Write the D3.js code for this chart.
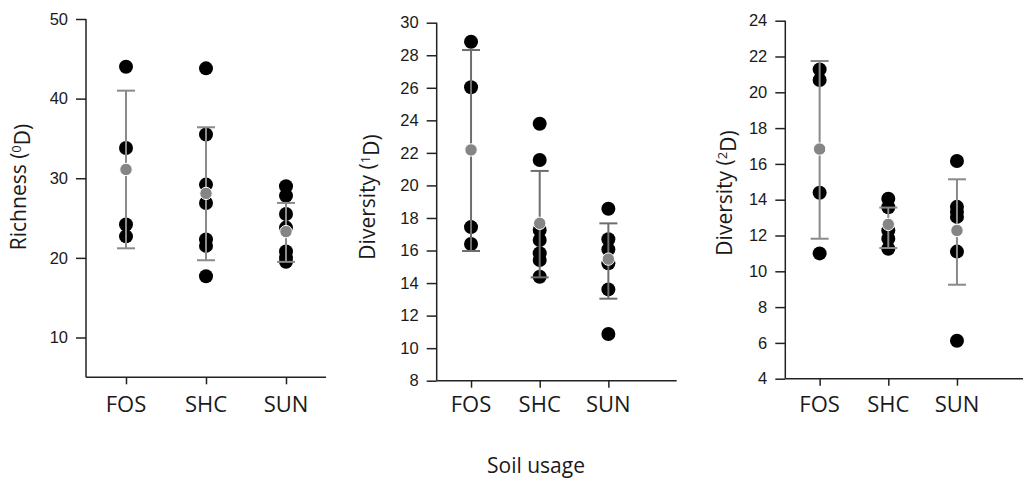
<!DOCTYPE html>
<html>
<head>
<meta charset="utf-8">
<script src="https://cdn.jsdelivr.net/npm/d3@7"></script>
<style>
  body { margin: 0; background: #fff; }
  .tick text { font-family: "Liberation Sans", Arial, sans-serif; font-size: 16.5px; fill: #1a1a1a; }
  .lab { font-family: "Open Sans", sans-serif; fill: #1a1a1a; }
</style>
</head>
<body>
<svg id="chart" width="1023" height="481"></svg>
<script>
// soil usage categories
var categories = ["FOS", "SHC", "SUN"];

// observed values per category (black dots)
var richness = [
  [44.0, 33.8, 24.2, 22.7],
  [43.8, 35.5, 29.2, 26.9, 22.3, 21.5, 17.7],
  [29.0, 27.8, 25.5, 23.8, 20.8, 20.0, 19.5]
];
var diversity1 = [
  [28.83, 26.03, 17.44, 16.4],
  [23.79, 21.56, 17.26, 16.65, 15.83, 15.42, 14.39],
  [18.57, 16.69, 16.07, 15.21, 13.61, 10.87]
];
var diversity2 = [
  [21.28, 20.69, 14.39, 11.0],
  [14.05, 13.58, 12.28, 11.82, 11.26],
  [16.16, 13.6, 13.32, 13.04, 11.1, 6.12]
];

// means and error bar ends (grey)
var richnessMean = [31.1, 28.1, 23.3];
var richnessLow = [21.2, 19.7, 19.5];
var richnessHigh = [41.0, 36.4, 26.9];

var diversity1Mean = [22.18, 17.67, 15.47];
var diversity1Low = [15.97, 14.35, 13.04];
var diversity1High = [28.32, 20.89, 17.67];

var diversity2Mean = [16.83, 12.62, 12.28];
var diversity2Low = [11.82, 11.3, 9.25];
var diversity2High = [21.75, 13.56, 15.14];

// tick labels
var richnessTicks = [10, 20, 30, 40, 50];
var diversity1Ticks = [8, 10, 12, 14, 16, 18, 20, 22, 24, 26, 28, 30];
var diversity2Ticks = [4, 6, 8, 10, 12, 14, 16, 18, 20, 22, 24];

var svg = d3.select("#chart");

var panels = [
  { left: 86, top: 19, bottom: 377.3, spread: 240, domain: [5, 50], ticks: richnessTicks,
    pts: richness, mean: richnessMean, lo: richnessLow, hi: richnessHigh,
    title: ["Richness (", "0", "D)"], tx: 19, ty: 187, err: "#8a8a8a" },
  { left: 436.7, top: 22.7, bottom: 380.7, spread: 206, domain: [8, 30], ticks: diversity1Ticks,
    pts: diversity1, mean: diversity1Mean, lo: diversity1Low, hi: diversity1High,
    title: ["Diversity (", "1", "D)"], tx: 368, ty: 197, err: "#6e6e6e" },
  { left: 785.3, top: 20.7, bottom: 378.7, spread: 206, domain: [4, 24], ticks: diversity2Ticks,
    pts: diversity2, mean: diversity2Mean, lo: diversity2Low, hi: diversity2High,
    title: ["Diversity (", "2", "D)"], tx: 725, ty: 193, err: "#8a8a8a" }
];

panels.forEach(function(p) {
  var y = d3.scaleLinear().domain(p.domain).range([p.bottom, p.top]);
  var x = d3.scalePoint().domain(categories).range([p.left, p.left + p.spread]).padding(0.5);

  // y axis
  var ya = svg.append("g")
      .attr("transform", "translate(" + p.left + ",0)")
      .call(d3.axisLeft(y).tickValues(p.ticks).tickSize(10).tickPadding(8));
  ya.select(".domain").attr("d", "M0," + p.top + "V" + p.bottom);

  // x axis
  var xa = svg.append("g")
      .attr("transform", "translate(0," + p.bottom + ")")
      .call(d3.axisBottom(x).tickSize(7).tickFormat(""));
  xa.select(".domain").attr("d", "M" + p.left + ",0H" + (p.left + 240));
  svg.selectAll(".domain, .tick line").attr("stroke", "#222").attr("stroke-width", 1.5);

  categories.forEach(function(c, i) {
    svg.append("text").attr("class", "lab")
        .attr("x", x(c)).attr("y", 412)
        .attr("text-anchor", "middle")
        .style("font-size", "22px")
        .text(c);
  });

  // black points
  var g = svg.append("g");
  p.pts.forEach(function(vals, i) {
    g.selectAll(null)
      .data(vals)
      .enter()
      .append("circle")
      .attr("cx", x(categories[i]))
      .attr("cy", d => y(d))
      .attr("r", 7)
      .attr("fill", "#000");
  });

  // error bars
  categories.forEach(function(c, i) {
    var cx = x(c);
    g.append("line")
      .attr("x1", cx).attr("x2", cx)
      .attr("y1", y(p.lo[i])).attr("y2", y(p.hi[i]))
      .attr("stroke", p.err).attr("stroke-width", 2);
    [p.lo[i], p.hi[i]].forEach(function(v) {
      g.append("line")
        .attr("x1", cx - 9).attr("x2", cx + 9)
        .attr("y1", y(v)).attr("y2", y(v))
        .attr("stroke", p.err).attr("stroke-width", 2);
    });
  });

  // means
  g.selectAll(null)
    .data(p.mean)
    .enter()
    .append("circle")
    .attr("cx", (d, i) => x(categories[i]))
    .attr("cy", d => y(d))
    .attr("r", 6.2)
    .attr("fill", "#858585")
    .attr("stroke", "#fff")
    .attr("stroke-width", 1);

  // y title
  var t = svg.append("text").attr("class", "lab")
      .attr("transform", "translate(" + p.tx + "," + p.ty + ") rotate(-90)")
      .attr("text-anchor", "middle")
      .attr("dy", "0.35em")
      .style("font-size", "21px");
  t.append("tspan").text(p.title[0]);
  t.append("tspan").attr("dy", "-0.45em").style("font-size", "13px").text(p.title[1]);
  t.append("tspan").attr("dy", "0.45em").text(p.title[2]);
});

svg.append("text").attr("class", "lab")
    .attr("x", 536).attr("y", 473)
    .attr("text-anchor", "middle")
    .style("font-size", "21px")
    .text("Soil usage");
</script>
</body>
</html>
